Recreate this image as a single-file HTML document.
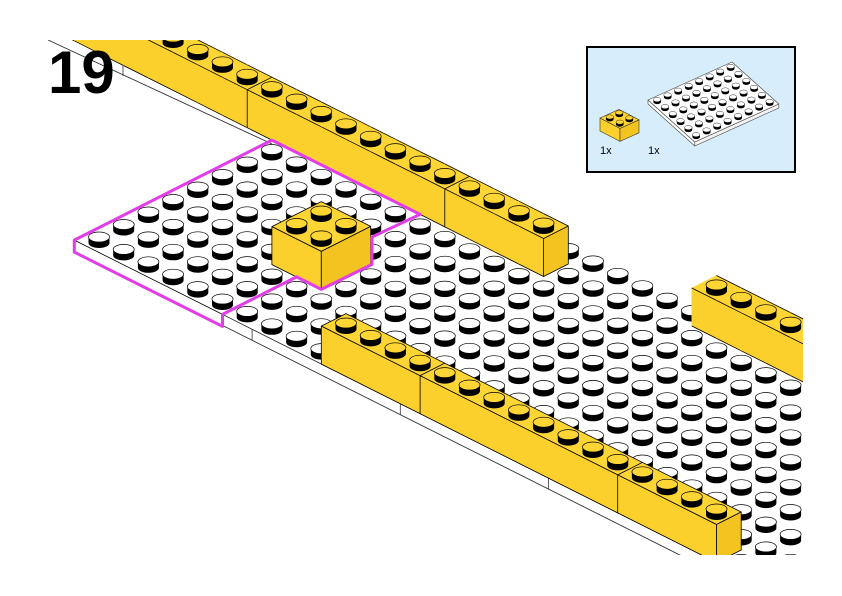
<!DOCTYPE html>
<html><head><meta charset="utf-8">
<style>
html,body{margin:0;padding:0;background:#fff;width:842px;height:596px;overflow:hidden;}
#c{width:842px;height:596px;overflow:hidden;position:relative;}
#c svg{display:block;}
</style></head>
<body><div id="c"></div>
<script>
const O=[99,237],U=[24.7,-12.5],V=[24.7,12.4],H=38;
function P(i,j){return [O[0]+i*U[0]+j*V[0],O[1]+i*U[1]+j*V[1]];}
function S(i,j,h){const p=P(i,j);return [p[0],p[1]+3-h];}
function f(n){return n.toFixed(1);}
function pts(a){return a.map(p=>f(p[0])+','+f(p[1])).join(' ');}
function poly(a,fill,stroke,sw){return `<polygon points="${pts(a)}" fill="${fill}" stroke="${stroke||fill}" stroke-width="${sw||0.6}" stroke-linejoin="round"/>`;}
function line(a,b,c,w){return `<line x1="${f(a[0])}" y1="${f(a[1])}" x2="${f(b[0])}" y2="${f(b[1])}" stroke="${c||'#000'}" stroke-width="${w||0.8}"/>`;}
function stud(x,y,col){return `<path d="M${f(x-10.5)},${f(y)} v6 a10.5,5 0 0 0 21,0 v-6 z" fill="#000"/><ellipse cx="${f(x)}" cy="${f(y)}" rx="10.5" ry="5" fill="${col}" stroke="#000" stroke-width="0.7"/>`;}
const YT='#fdd535',YF='#fbd02c',YE='#f3c41f';
let objs=[];
function cell(i,j,end,join){
  let s='';
  s+=poly([S(i-.5,j-.5,H),S(i+.5,j-.5,H),S(i+.5,j+.5,H),S(i-.5,j+.5,H)],YT);
  s+=poly([S(i-.5,j-.5,H),S(i-.5,j+.5,H),S(i-.5,j+.5,0),S(i-.5,j-.5,0)],YF);
  s+=line(S(i+.5,j-.5,H),S(i+.5,j+.5,H));
  s+=line(S(i-.5,j-.5,H),S(i-.5,j+.5,H));
  s+=line(S(i-.5,j-.5,0),S(i-.5,j+.5,0));
  if(join){s+=line(S(i-.5,j-.5,H),S(i-.5,j-.5,0));s+=line(S(i-.5,j-.5,H),S(i+.5,j-.5,H));}
  if(end){s+=poly([S(i-.5,j+.5,H),S(i+.5,j+.5,H),S(i+.5,j+.5,0),S(i-.5,j+.5,0)],YE,'#000',0.8);}
  const p=P(i,j);s+=stud(p[0],p[1]-H,YT);
  objs.push({k:j-i-0.1,s});
}
function box(ia,ib,ja,jb){
  let s='';
  s+=poly([S(ia,ja,H),S(ib,ja,H),S(ib,jb,H),S(ia,jb,H)],YT,'#000',0.8);
  s+=poly([S(ia,ja,H),S(ia,jb,H),S(ia,jb,0),S(ia,ja,0)],YF,'#000',0.8);
  s+=poly([S(ia,jb,H),S(ib,jb,H),S(ib,jb,0),S(ia,jb,0)],YE,'#000',0.8);
  return s;
}
{let s=box(2.5,4.5,4.5,6.5);
 const order=[[4,5],[3,5],[4,6],[3,6]];for(const [i,j] of order){const p=P(i,j);s+=stud(p[0],p[1]-H,YT);}
 objs.push({k:2.5,s});}
{let s=box(-0.5,0.5,9.5,25.5);
 s+=line(S(-.5,13.5,H),S(-.5,13.5,0))+line(S(-.5,13.5,H),S(.5,13.5,H));
 s+=line(S(-.5,21.5,H),S(-.5,21.5,0))+line(S(-.5,21.5,H),S(.5,21.5,H));
 for(let j=10;j<=25;j++){const p=P(0,j);s+=stud(p[0],p[1]-H,YT);}
 objs.push({k:24.5,s});}
for(let j=-9;j<=10;j++){cell(8,j,j==10,[-9.5,-1.5,6.5].includes(j-.5));}
for(let j=16;j<=20;j++){cell(9,j,false,false);}
function covered(i,j){
  if(i>=3&&i<=4&&j>=5&&j<=6)return true;
  if(i==0&&j>=10&&j<=25)return true;
  if(i==8&&j<=10)return true;
  if(i==9&&j>=16)return true;
  return false;
}
for(let i=0;i<=9;i++)for(let j=0;j<=32;j++){
  if(j<=5&&i>7)continue;
  if(covered(i,j))continue;
  const p=P(i,j);if(p[0]>815||p[1]>566)continue;
  objs.push({k:j-i,s:stud(p[0],p[1],'#fff')});
}
objs.sort((a,b)=>a.k-b.k);
let base='';
base+=poly([S(-.5,-.5,0),S(-.5,5.5,0),S(-.5,5.5,-12),S(-.5,-.5,-12)],'#fff');
base+=line(S(-.5,-.5,0),S(-.5,5.5,0),'#000',0.8);
base+=line(S(-.5,5.5,0),S(-.5,27,0),'#333',0.9);
base+=line(S(-.5,5.5,-11),S(-.5,27,-11),'#333',0.9);
for(const j of [6.7,12.7,18.7]){base+=line(S(-.5,j,0),S(-.5,j,-11),'#333',0.8);}
base+=line([48,40],[272,144],'#333',0.9);
base+=line([123,62],[123,76],'#333',0.8);
const M=[S(-.5,-.5,0),S(7.5,-.5,0),S(7.5,5.5,0),[372,237],[372,S(4.5,6.5,0)[1]],S(2.5,6.5,0),S(2.5,5.5,0),S(-.5,5.5,0),S(-.5,5.5,-12),S(-.5,-.5,-12)];
const mag=`<polygon points="${pts(M)}" fill="none" stroke="#e13ee8" stroke-width="3" stroke-linejoin="round"/>`;
let ins=`<rect x="587" y="47" width="208" height="125" fill="#d7edfb" stroke="#000" stroke-width="2"/>`;
{const L=[648,100],u=[10.5,-4.75],v=[7.8,7];
 const A=(a,b,dy)=>[L[0]+a*u[0]+b*v[0],L[1]+a*u[1]+b*v[1]+(dy||0)];
 ins+=poly([A(0,0),A(0,6),A(0,6,4),A(0,0,4)],'#fff','#444',0.6);
 ins+=poly([A(0,6),A(8,6),A(8,6,4),A(0,6,4)],'#f2f2f2','#444',0.6);
 ins+=poly([A(0,0),A(8,0),A(8,6),A(0,6)],'#fff','#444',0.6);
 for(let b=0;b<6;b++)for(let a=7;a>=0;a--){const p=A(a+.5,b+.5,-1.5);
  ins+=`<path d="M${f(p[0]-3.8)},${f(p[1])} v2.4 a3.8,2.1 0 0 0 7.6,0 v-2.4 z" fill="#000"/><ellipse cx="${f(p[0])}" cy="${f(p[1])}" rx="3.8" ry="2.1" fill="#fff" stroke="#000" stroke-width="0.4"/>`;}
}
{const L=[600,118],u=[9.5,-4.3],v=[10,5.2];
 const A=(a,b,dy)=>[L[0]+a*u[0]+b*v[0],L[1]+a*u[1]+b*v[1]+(dy||0)];
 ins+=poly([A(0,0),A(0,2),A(0,2,13),A(0,0,13)],YF,'#333',0.6);
 ins+=poly([A(0,2),A(2,2),A(2,2,13),A(0,2,13)],YE,'#333',0.6);
 ins+=poly([A(0,0),A(2,0),A(2,2),A(0,2)],YT,'#333',0.6);
 for(const [a,b] of [[1,0],[0,0],[1,1],[0,1]]){const p=A(a+.5,b+.5,-1.5);
  ins+=`<path d="M${f(p[0]-3.8)},${f(p[1])} v2.4 a3.8,2.1 0 0 0 7.6,0 v-2.4 z" fill="#000"/><ellipse cx="${f(p[0])}" cy="${f(p[1])}" rx="3.8" ry="2.1" fill="${YT}" stroke="#000" stroke-width="0.4"/>`;}
}
ins+=`<text x="600" y="154" font-family="Liberation Sans, sans-serif" font-size="11" fill="#000">1x</text><text x="648" y="154" font-family="Liberation Sans, sans-serif" font-size="11" fill="#000">1x</text>`;
const svg=`<svg xmlns="http://www.w3.org/2000/svg" width="842" height="596" viewBox="0 0 842 596">
<defs><clipPath id="cp"><rect x="0" y="40" width="803" height="515"/></clipPath></defs>
<rect width="842" height="596" fill="#fff"/>
<g clip-path="url(#cp)">${base}${objs.map(o=>o.s).join('')}${mag}</g>
<text x="48" y="93" font-family="Liberation Sans, sans-serif" font-weight="bold" font-size="60" fill="#000">19</text>
${ins}</svg>`;
document.getElementById('c').innerHTML=svg;
</script>
</body></html>
